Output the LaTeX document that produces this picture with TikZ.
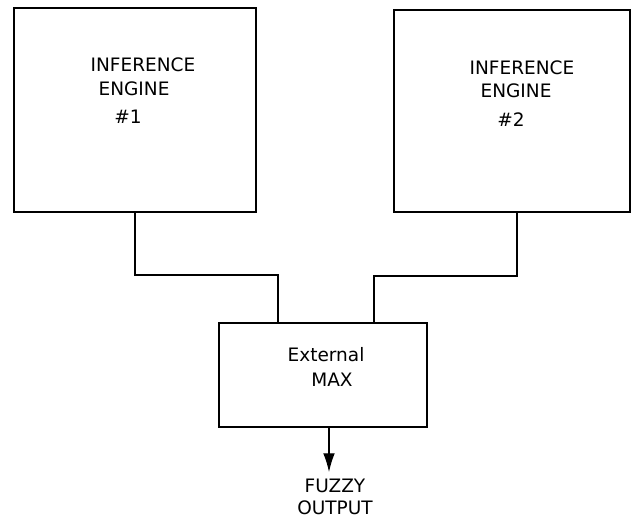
\documentclass[tikz,border=0pt]{standalone}
\usepackage{fontspec}
\setmainfont{DejaVu Sans}
\usepackage{tikz}
\usetikzlibrary{positioning, arrows.meta}

\begin{document}
\begin{tikzpicture}
	[x= 0.03cm, y= -0.03cm, every node/.style = {font=\fontsize{15.8}{19}\selectfont},
	 box/.style = {draw, rectangle, line width=1.6pt, inner sep=0pt},
	 wire/.style = {line width=1pt}]
	\useasboundingbox (0,0) rectangle (634,520);
	\node[box, minimum width=7.26cm, minimum height=6.12cm] (eng1) at (135,110) {};
	\node[box, minimum width=7.08cm, minimum height=6.06cm] (eng2) at (512,111) {};
	\node[box, minimum width=6.24cm, minimum height=3.12cm] (max) at (323,375) {};
	\node (t1a) at (143,65) {INFERENCE};
	\node (t1b) at (134,89) {ENGINE};
	\node (t1c) at (128,117) {\#1};
	\node (t2a) at (522,68) {INFERENCE};
	\node (t2b) at (516,91) {ENGINE};
	\node (t2c) at (511,120) {\#2};
	\node (tm1) at (326,355) {External};
	\node (tm2) at (332,380) {MAX};
	\node[align=center, inner sep=0pt] (out) at (335,497) {FUZZY\\OUTPUT};
	\coordinate (out2) at (517,212);
	\coordinate (in1) at (278,323);
	\coordinate (in2) at (374,323);
	\coordinate (tip) at (329,472);
	\draw[wire] (eng1.south) -- ++(0,62) -| (in1);
	\draw[wire] (out2) -- ++(0,64) -| (in2);
	\draw[wire, -{Latex[length=16pt, width=10pt]}] (max.south -| tip) -- (tip);
\end{tikzpicture}
\end{document}
